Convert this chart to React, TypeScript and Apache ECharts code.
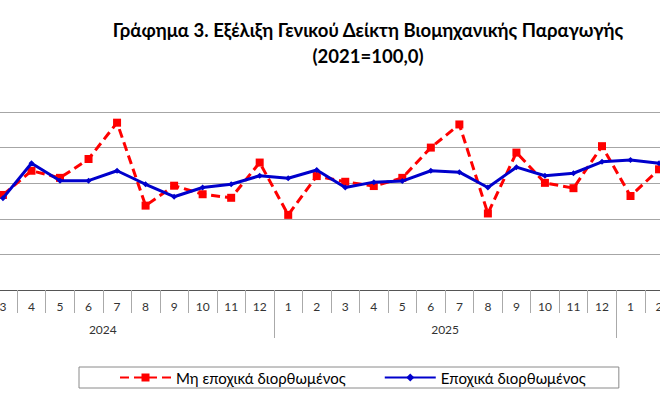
import React, { useEffect, useRef } from "react";
import * as echarts from "echarts";

const titleLine1 = "Γράφημα 3. Εξέλιξη Γενικού Δείκτη Βιομηχανικής Παραγωγής";
const titleLine2 = "(2021=100,0)";

const months = [
  "3", "4", "5", "6", "7", "8", "9", "10", "11", "12",
  "1", "2", "3", "4", "5", "6", "7", "8", "9", "10", "11", "12",
  "1", "2",
];

// year labels placed at month boundaries (25 boundaries for 24 months)
const yearBoundaryLabels = [
  "", "", "", "", "2024", "", "", "", "", "", "",
  "", "", "", "", "", "2025", "", "", "", "", "",
  "", "", "",
];
const yearSeparators = [10, 22];

const nonAdjusted = [
  96.7, 103.5, 101.5, 106.8, 117.0, 93.7, 99.3, 96.9, 95.9, 105.8,
  91.1, 102.0, 100.4, 99.2, 101.5, 110.0, 116.5, 91.5, 108.6, 100.1, 98.6, 110.4,
  96.4, 103.9,
];
const seasonallyAdjusted = [
  95.8, 105.6, 100.7, 100.7, 103.5, 99.7, 96.2, 98.8, 99.7, 102.1,
  101.4, 103.7, 98.8, 100.3, 100.6, 103.5, 103.1, 98.8, 104.5, 102.1, 102.8, 106.0,
  106.5, 105.6,
];

const seriesNames = ["Μη εποχικά διορθωμένος", "Εποχικά διορθωμένος"];

export default function App() {
  const ref = useRef<HTMLDivElement>(null);
  useEffect(() => {
    if (!ref.current) return;
    const chart = echarts.init(ref.current, null, { renderer: "svg" });
    const font = "Lato, 'Open Sans', sans-serif";
    chart.setOption({
      animation: false,
      backgroundColor: "#ffffff",
      textStyle: { fontFamily: font },
      title: {
        text: titleLine1 + "\n" + titleLine2,
        left: 363,
        top: 12,
        textAlign: "center",
        textStyle: {
          fontFamily: font,
          fontSize: 18.5,
          fontWeight: "bold",
          color: "#000",
          lineHeight: 26,
        },
      },
      legend: {
        left: 79,
        top: 367,
        padding: [3, 33, 3, 40],
        borderColor: "#8a8a8a",
        borderWidth: 1,
        itemWidth: 51,
        itemHeight: 10,
        itemGap: 38,
        textStyle: { fontFamily: font, fontSize: 15, color: "#000" },
        data: seriesNames,
      },
      grid: {
        left: -11.3,
        right: -13.3,
        top: 112,
        bottom: 122,
        containLabel: false,
        outerBoundsMode: "none",
      },
      xAxis: [
        {
          type: "category",
          data: months,
          boundaryGap: true,
          position: "bottom",
          axisLine: { show: true, lineStyle: { color: "#555", width: 1 } },
          axisTick: { show: true, length: 23, lineStyle: { color: "#aaa" } },
          axisLabel: {
            interval: 0,
            margin: 10,
            fontFamily: font,
            fontSize: 12,
            color: "#333",
          },
          splitLine: { show: false },
        },
        {
          type: "category",
          data: yearBoundaryLabels,
          boundaryGap: false,
          position: "bottom",
          offset: 0,
          axisLine: { show: false },
          axisTick: {
            show: true,
            length: 48,
            interval: (i: number) => yearSeparators.includes(i),
            lineStyle: { color: "#aaa" },
          },
          axisLabel: {
            interval: 0,
            margin: 33,
            fontFamily: font,
            fontSize: 12,
            color: "#333",
          },
          splitLine: { show: false },
        },
      ],
      yAxis: {
        type: "value",
        min: 70,
        max: 120,
        interval: 10,
        axisLine: { show: false },
        axisTick: { show: false },
        axisLabel: { show: false },
        splitLine: { show: true, lineStyle: { color: "#a6a6a6", width: 1 } },
      },
      series: [
        {
          name: seriesNames[0],
          type: "line",
          xAxisIndex: 0,
          data: nonAdjusted,
          symbol: "rect",
          symbolSize: 8,
          itemStyle: { color: "#ff0000" },
          lineStyle: { color: "#ff0000", width: 3, type: [9, 5] },
          z: 2,
        },
        {
          name: seriesNames[1],
          type: "line",
          xAxisIndex: 0,
          data: seasonallyAdjusted,
          symbol: "diamond",
          symbolSize: 6,
          itemStyle: { color: "#0000cc" },
          lineStyle: { color: "#0000cc", width: 3 },
          z: 3,
        },
      ],
    });
    return () => chart.dispose();
  }, []);
  return (
    <div
      ref={ref}
      style={{ position: "fixed", left: 0, top: 0, width: 660, height: 412 }}
    />
  );
}
